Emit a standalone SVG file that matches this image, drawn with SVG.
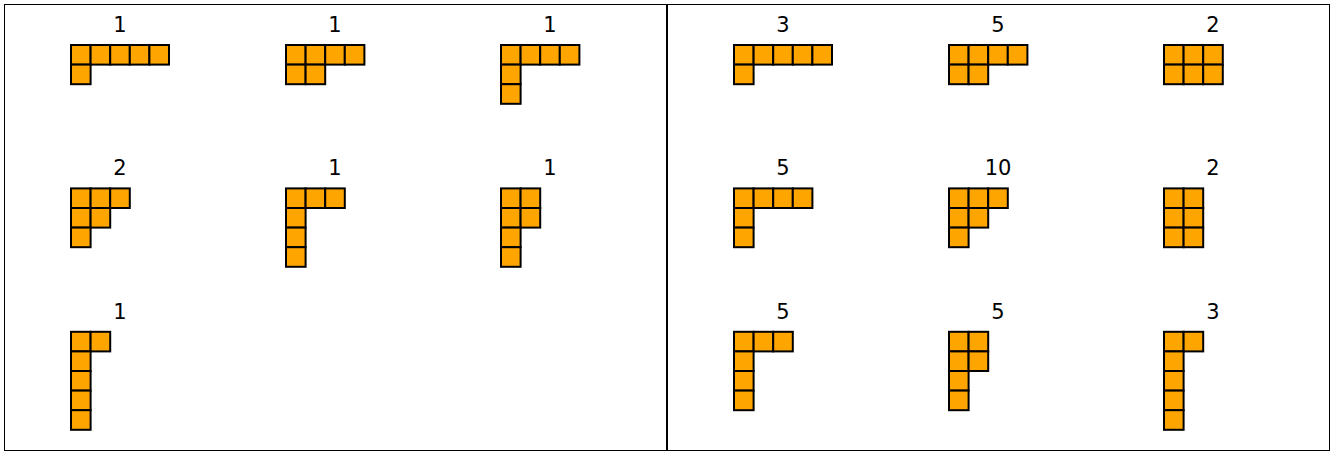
<svg xmlns="http://www.w3.org/2000/svg" xmlns:xlink="http://www.w3.org/1999/xlink" width="1335" height="452" viewBox="0 0 1335 452">
<style>
.c{fill:#FFA500;stroke:#000;stroke-width:2}
.t{font-family:"DejaVu Sans",sans-serif;font-size:21px;fill:#000;text-anchor:middle}
.f{fill:none;stroke:#000;stroke-width:1}
</style>
<defs>
<rect id="c" class="c" width="19.6" height="19.6"/>
<g id="p51"><use href="#c" x="0" y="0"/><use href="#c" x="19.6" y="0"/><use href="#c" x="39.2" y="0"/><use href="#c" x="58.8" y="0"/><use href="#c" x="78.4" y="0"/><use href="#c" x="0" y="19.6"/></g>
<g id="p42"><use href="#c" x="0" y="0"/><use href="#c" x="19.6" y="0"/><use href="#c" x="39.2" y="0"/><use href="#c" x="58.8" y="0"/><use href="#c" x="0" y="19.6"/><use href="#c" x="19.6" y="19.6"/></g>
<g id="p411"><use href="#c" x="0" y="0"/><use href="#c" x="19.6" y="0"/><use href="#c" x="39.2" y="0"/><use href="#c" x="58.8" y="0"/><use href="#c" x="0" y="19.6"/><use href="#c" x="0" y="39.2"/></g>
<g id="p33"><use href="#c" x="0" y="0"/><use href="#c" x="19.6" y="0"/><use href="#c" x="39.2" y="0"/><use href="#c" x="0" y="19.6"/><use href="#c" x="19.6" y="19.6"/><use href="#c" x="39.2" y="19.6"/></g>
<g id="p321"><use href="#c" x="0" y="0"/><use href="#c" x="19.6" y="0"/><use href="#c" x="39.2" y="0"/><use href="#c" x="0" y="19.6"/><use href="#c" x="19.6" y="19.6"/><use href="#c" x="0" y="39.2"/></g>
<g id="p3111"><use href="#c" x="0" y="0"/><use href="#c" x="19.6" y="0"/><use href="#c" x="39.2" y="0"/><use href="#c" x="0" y="19.6"/><use href="#c" x="0" y="39.2"/><use href="#c" x="0" y="58.8"/></g>
<g id="p222"><use href="#c" x="0" y="0"/><use href="#c" x="19.6" y="0"/><use href="#c" x="0" y="19.6"/><use href="#c" x="19.6" y="19.6"/><use href="#c" x="0" y="39.2"/><use href="#c" x="19.6" y="39.2"/></g>
<g id="p2211"><use href="#c" x="0" y="0"/><use href="#c" x="19.6" y="0"/><use href="#c" x="0" y="19.6"/><use href="#c" x="19.6" y="19.6"/><use href="#c" x="0" y="39.2"/><use href="#c" x="0" y="58.8"/></g>
<g id="p21111"><use href="#c" x="0" y="0"/><use href="#c" x="19.6" y="0"/><use href="#c" x="0" y="19.6"/><use href="#c" x="0" y="39.2"/><use href="#c" x="0" y="58.8"/><use href="#c" x="0" y="78.4"/></g>
</defs>
<g id="frame">
<rect class="f" x="4.5" y="4.5" width="1325" height="446"/>
<line x1="667" y1="4" x2="667" y2="451" stroke="#000" stroke-width="2"/>
</g>
<g id="left-panel">
<g id="L-51" transform="translate(71,45)"><use href="#p51"/><text class="t" x="49" y="-13">1</text></g>
<g id="L-42" transform="translate(286,45)"><use href="#p42"/><text class="t" x="49" y="-13">1</text></g>
<g id="L-411" transform="translate(501,45)"><use href="#p411"/><text class="t" x="49" y="-13">1</text></g>
<g id="L-321" transform="translate(71,188.4)"><use href="#p321"/><text class="t" x="49" y="-13">2</text></g>
<g id="L-3111" transform="translate(286,188.4)"><use href="#p3111"/><text class="t" x="49" y="-13">1</text></g>
<g id="L-2211" transform="translate(501,188.4)"><use href="#p2211"/><text class="t" x="49" y="-13">1</text></g>
<g id="L-21111" transform="translate(71,331.8)"><use href="#p21111"/><text class="t" x="49" y="-13">1</text></g>
</g>
<g id="right-panel">
<g id="R-51" transform="translate(734,45)"><use href="#p51"/><text class="t" x="49" y="-13">3</text></g>
<g id="R-42" transform="translate(949,45)"><use href="#p42"/><text class="t" x="49" y="-13">5</text></g>
<g id="R-33" transform="translate(1164,45)"><use href="#p33"/><text class="t" x="49" y="-13">2</text></g>
<g id="R-411" transform="translate(734,188.4)"><use href="#p411"/><text class="t" x="49" y="-13">5</text></g>
<g id="R-321" transform="translate(949,188.4)"><use href="#p321"/><text class="t" x="49" y="-13">10</text></g>
<g id="R-222" transform="translate(1164,188.4)"><use href="#p222"/><text class="t" x="49" y="-13">2</text></g>
<g id="R-3111" transform="translate(734,331.8)"><use href="#p3111"/><text class="t" x="49" y="-13">5</text></g>
<g id="R-2211" transform="translate(949,331.8)"><use href="#p2211"/><text class="t" x="49" y="-13">5</text></g>
<g id="R-21111" transform="translate(1164,331.8)"><use href="#p21111"/><text class="t" x="49" y="-13">3</text></g>
</g>
<g id="connectors"/>
</svg>
